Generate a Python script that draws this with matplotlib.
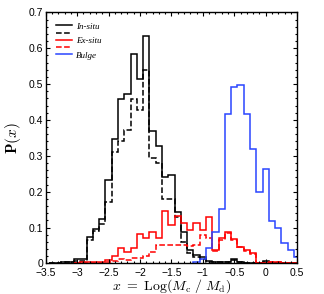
import matplotlib
matplotlib.use("Agg")
import matplotlib.pyplot as plt
import numpy as np
from matplotlib.ticker import MultipleLocator, FuncFormatter

plt.rcParams["mathtext.fontset"] = "cm"
plt.rcParams["font.family"] = ["Liberation Sans", "DejaVu Sans"]

# bin centres (width 0.1)
centers = np.round(np.arange(-3.4, 0.55, 0.1), 2)

in_situ = [0.0, 0.002, 0.003, 0.005, 0.012, 0.012, 0.075, 0.097, 0.125, 0.233,
           0.346, 0.459, 0.471, 0.585, 0.513, 0.633, 0.368, 0.328, 0.242, 0.247,
           0.142, 0.089, 0.038, 0.024, 0.018, 0.008, 0.004, 0.004, 0.004, 0.012,
           0.004, 0.002, 0.002, 0.002, 0.006, 0.002, 0.0, 0.0, 0.0, 0.0]
in_situ_d = [0.0, 0.002, 0.003, 0.005, 0.008, 0.008, 0.065, 0.09, 0.11, 0.17,
             0.31, 0.34, 0.373, 0.459, 0.428, 0.54, 0.293, 0.279, 0.18, 0.18,
             0.13, 0.06, 0.03, 0.018, 0.012, 0.005, 0.003, 0.003, 0.003, 0.01,
             0.003, 0.002, 0.002, 0.002, 0.005, 0.002, 0.0, 0.0, 0.0, 0.0]

# ex-situ starts at -3.0
ex_centers = centers[4:]
ex_situ = [0.002, 0.004, 0.004, 0.004, 0.004, 0.01, 0.021, 0.042, 0.031, 0.042,
           0.081, 0.072, 0.089, 0.072, 0.146, 0.107, 0.133, 0.112, 0.092, 0.112,
           0.092, 0.13, 0.038, 0.07, 0.087, 0.068, 0.047, 0.038, 0.028, 0.0,
           0.0, 0.004, 0.004, 0.0, 0.0, 0.0]
ex_situ_d = [0.001, 0.002, 0.002, 0.002, 0.002, 0.004, 0.008, 0.012, 0.01, 0.015,
             0.015, 0.02, 0.033, 0.052, 0.05, 0.05, 0.052, 0.052, 0.048, 0.05,
             0.078, 0.07, 0.035, 0.066, 0.084, 0.066, 0.045, 0.036, 0.026, 0.0,
             0.0, 0.003, 0.003, 0.0, 0.0, 0.0]

# bulge starts at -1.1
bulge_centers = centers[23:]
bulge = [0.004, 0.012, 0.042, 0.088, 0.151, 0.417, 0.491, 0.497, 0.417, 0.318,
         0.2, 0.263, 0.117, 0.098, 0.056, 0.038, 0.019]


def edges(c):
    c = np.asarray(c)
    return np.append(c - 0.05, c[-1] + 0.05)


fig = plt.figure(figsize=(3.24, 2.94), dpi=100)
ax = fig.add_axes([0.141, 0.104, 0.776, 0.854])

lw = 1.1
ax.stairs(in_situ, edges(centers), color="black", lw=lw, label="In-situ")
ax.stairs(in_situ_d, edges(centers), color="black", lw=lw, ls="--", label=" ")
ax.stairs(ex_situ, edges(ex_centers), color="red", lw=lw, label="Ex-situ")
ax.stairs(ex_situ_d, edges(ex_centers), color="red", lw=lw, ls="--", label="  ")
ax.stairs(bulge, edges(bulge_centers), color="#2a45ff", lw=lw, label="Bulge")

ax.set_xlim(-3.5, 0.5)
ax.set_ylim(0, 0.7)
ax.xaxis.set_major_locator(MultipleLocator(0.5))
ax.xaxis.set_minor_locator(MultipleLocator(0.1))
ax.yaxis.set_major_locator(MultipleLocator(0.1))
ax.yaxis.set_minor_locator(MultipleLocator(0.02))
fmt = FuncFormatter(lambda v, p: ("%g" % round(v, 2)).replace("-", "\u2212"))
ax.xaxis.set_major_formatter(fmt)
ax.yaxis.set_major_formatter(fmt)
ax.tick_params(which="both", direction="in", top=True, right=True, labelsize=7.5, width=0.8)
ax.tick_params(axis="x", pad=3.5)
ax.tick_params(axis="y", pad=2)
ax.tick_params(which="major", length=3)
ax.tick_params(which="minor", length=1.5)
for s in ax.spines.values():
    s.set_linewidth(1.0)

ax.set_xlabel(r"$x\ =\ \mathrm{Log}(M_{\rm c}\ /\ M_{\rm d})$", fontsize=10, labelpad=-1)
ax.set_ylabel(r"$\mathbf{P}(x)$", fontsize=11, labelpad=4)

leg = ax.legend(loc="upper left", frameon=False, handlelength=1.8, handletextpad=0.5,
                labelspacing=-0.12, borderaxespad=0.7,
                prop={"family": "Liberation Serif", "style": "italic", "size": 6.5})

fig.savefig("out.png", dpi=100)
